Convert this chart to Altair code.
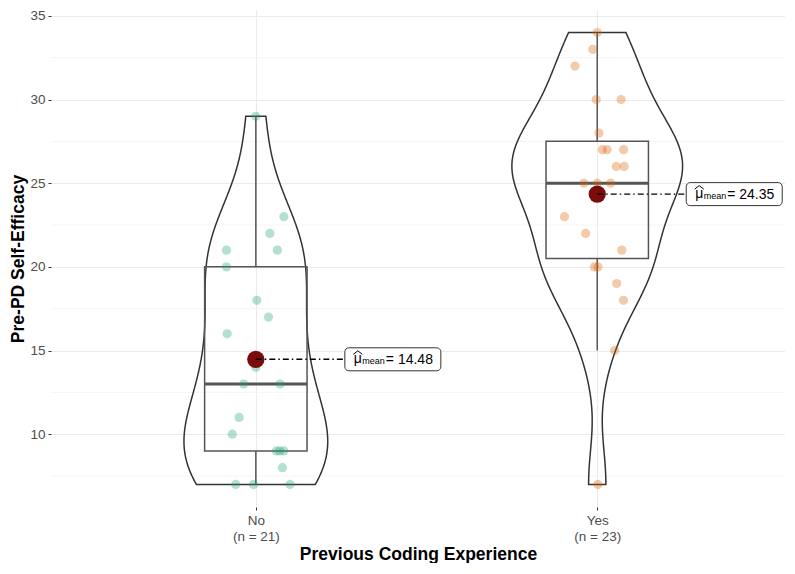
import altair as alt
import numpy as np
import pandas as pd

# ---- data ----
categories = ["No", "Yes"]
x_title = "Previous Coding Experience"
y_title = "Pre-PD Self-Efficacy"
group_colors = ["#1B9E77", "#D95F02"]

no_values = [29, 23, 22, 21, 21, 20, 18, 17, 16, 14, 13, 13, 11, 10, 9, 9, 9, 8, 7, 7, 7]
no_jitter = [0.0, 0.082, 0.041, -0.086, 0.063, -0.086, 0.003, 0.037, -0.084, 0.0, -0.036,
             0.071, -0.049, -0.069, 0.06, 0.082, 0.07, 0.078, -0.059, -0.007, 0.10]
yes_values = [34, 33, 32, 30, 30, 28, 27, 27, 27, 26, 26, 25, 25, 25, 23, 22, 21, 20, 20, 19, 18, 15, 7]
yes_jitter = [0.0, -0.013, -0.065, -0.003, 0.07, 0.005, 0.015, 0.029, 0.077, 0.056, 0.079,
              -0.039, 0.039, 0.0, -0.096, -0.034, 0.072, -0.008, 0.002, 0.057, 0.077, 0.051, 0.002]

y_major = [10, 15, 20, 25, 30, 35]
y_minor = [7.5, 12.5, 17.5, 22.5, 27.5, 32.5]

groups = [(categories[0], no_values, no_jitter), (categories[1], yes_values, yes_jitter)]

# ---- derived tables ----
def bw_nrd0(v):
    v = np.asarray(v, float)
    sd = v.std(ddof=1)
    iqr = np.quantile(v, 0.75) - np.quantile(v, 0.25)
    lo = min(sd, iqr / 1.34)
    return 0.9 * lo * len(v) ** -0.2

vrows, brows, prows = [], [], []
dens_all = []
for i, (name, vals, jit) in enumerate(groups):
    pos = i + 1
    v = np.asarray(vals, float)
    bw = bw_nrd0(v)
    grid = np.linspace(v.min(), v.max(), 512)
    d = np.exp(-0.5 * ((grid[:, None] - v[None, :]) / bw) ** 2).sum(axis=1) / (len(v) * bw * np.sqrt(2 * np.pi))
    dens_all.append((pos, name, grid, d))
    q1, med, q3 = np.quantile(v, [0.25, 0.5, 0.75])
    iqr = q3 - q1
    lo = v[v >= q1 - 1.5 * iqr].min()
    hi = v[v <= q3 + 1.5 * iqr].max()
    m = v.mean()
    brows.append(dict(g=name, pos=pos, q1=q1, med=med, q3=q3, lo=lo, hi=hi,
                      lft=pos - 0.15, rgt=pos + 0.15, mean=m, lab=f"= {m:.2f}"))
    for val, j in zip(vals, jit):
        prows.append(dict(g=name, px=pos + j, val=val))

dmax = max(d.max() for _, _, _, d in dens_all)
for pos, name, grid, d in dens_all:
    hw = 0.25 * d / dmax
    for yy, h in zip(grid, hw):
        vrows.append(dict(g=name, y=yy, left=pos - h, right=pos + h))

vdf = pd.DataFrame(vrows)
bdf = pd.DataFrame(brows)
pdf = pd.DataFrame(prows)
mdf = pd.DataFrame({"y": y_minor})

label_expr = " : ".join(
    f"datum.value == {i + 1} ? ['{c}', '(n = {len(groups[i][1])})']" for i, c in enumerate(categories)
) + " : ''"

FONT = "Liberation Sans"
XS = alt.Scale(domain=[0.4, 2.55], nice=False, zero=False)
YS = alt.Scale(domain=[5.65, 35.35], nice=False, zero=False)
X_AX = alt.Axis(values=[1, 2], labelExpr=label_expr, grid=True, gridColor="#EBEBEB", gridWidth=1.1,
                domain=False, tickColor="#333333", tickSize=3, labelColor="#4D4D4D", labelFontSize=13.5,
                labelLineHeight=16, labelPadding=3, title=x_title, titleFontSize=17.5, titleFontWeight="bold",
                titleColor="black", titlePadding=3)
Y_AX = alt.Axis(values=y_major, grid=True, gridColor="#EBEBEB", gridWidth=1.1, domain=False,
                tickColor="#333333", tickSize=3, labelColor="#4D4D4D", labelFontSize=13.5, labelPadding=3,
                title=y_title, titleFontSize=17.5, titleFontWeight="bold", titleColor="black", titlePadding=2)

def X(f):
    return alt.X(f, type="quantitative", scale=XS, axis=X_AX)

def Y(f):
    return alt.Y(f, type="quantitative", scale=YS, axis=Y_AX)

minor = alt.Chart(mdf).mark_rule(color="#F3F3F3", strokeWidth=0.8).encode(y=Y("y"))

violin = alt.Chart(vdf).mark_area(orient="horizontal", fill="white", fillOpacity=0,
                                  stroke="#333333", strokeWidth=1.5).encode(
    y=Y("y"), x=X("left"), x2="right", detail="g:N")

box = alt.Chart(bdf).mark_rect(fill="white", fillOpacity=0, stroke="#555555", strokeWidth=1.5).encode(
    x=X("lft"), x2="rgt", y=Y("q1"), y2="q3")
median = alt.Chart(bdf).mark_rule(color="#555555", strokeWidth=3).encode(x=X("lft"), x2="rgt", y=Y("med"))
wh_hi = alt.Chart(bdf).mark_rule(color="#555555", strokeWidth=1.5).encode(x=X("pos"), y=Y("q3"), y2="hi")
wh_lo = alt.Chart(bdf).mark_rule(color="#555555", strokeWidth=1.5).encode(x=X("pos"), y=Y("lo"), y2="q1")

points = alt.Chart(pdf).mark_circle(size=85, opacity=0.33).encode(
    x=X("px"), y=Y("val"),
    color=alt.Color("g:N", scale=alt.Scale(domain=categories, range=group_colors), legend=None))

mean_pt = alt.Chart(bdf).mark_circle(size=300, color="#7A0C0C", opacity=1).encode(x=X("pos"), y=Y("mean"))
mean_line = alt.Chart(bdf).mark_rule(color="black", strokeWidth=1.4, strokeDash=[6, 3, 1.5, 3],
                                     x2Offset=89).encode(x=X("pos"), x2="pos", y=Y("mean"))
lab_box = alt.Chart(bdf).mark_rect(fill="white", stroke="#333333", strokeWidth=1, cornerRadius=4,
                                   x2Offset=185, xOffset=89, yOffset=-11.5, y2Offset=11.5).encode(
    x=X("pos"), x2="pos", y=Y("mean"), y2="mean")
mu = alt.Chart(bdf).mark_text(text="μ", align="left", baseline="alphabetic", dx=98, dy=4,
                              fontSize=14, font=FONT, color="black").encode(x=X("pos"), y=Y("mean"))
# wide hat over mu, drawn as two short strokes
hat_l = alt.Chart(bdf).mark_rule(color="black", strokeWidth=1, xOffset=97.5, x2Offset=102,
                                 yOffset=-5, y2Offset=-8.5).encode(
    x=X("pos"), x2="pos", y=Y("mean"), y2="mean")
hat_r = alt.Chart(bdf).mark_rule(color="black", strokeWidth=1, xOffset=102, x2Offset=106.5,
                                 yOffset=-8.5, y2Offset=-5).encode(
    x=X("pos"), x2="pos", y=Y("mean"), y2="mean")
sub = alt.Chart(bdf).mark_text(text="mean", align="left", baseline="alphabetic", dx=106.5, dy=5,
                               fontSize=9, font=FONT, color="black").encode(x=X("pos"), y=Y("mean"))
val = alt.Chart(bdf).mark_text(align="left", baseline="alphabetic", dx=130, dy=5,
                               fontSize=14, font=FONT, color="black").encode(
    x=X("pos"), y=Y("mean"), text="lab:N")

chart = alt.layer(minor, violin, box, wh_hi, wh_lo, median, points, mean_pt, mean_line,
                  lab_box, mu, hat_l, hat_r, sub, val).properties(
    width=734, height=497,
    autosize=alt.AutoSizeParams(type="none"),
    padding={"left": 43, "top": 2, "right": 0, "bottom": 56},
).configure(font=FONT, view=alt.ViewConfig(stroke=None))

chart.save("out.html", embed_options={"renderer": "svg", "actions": False})
